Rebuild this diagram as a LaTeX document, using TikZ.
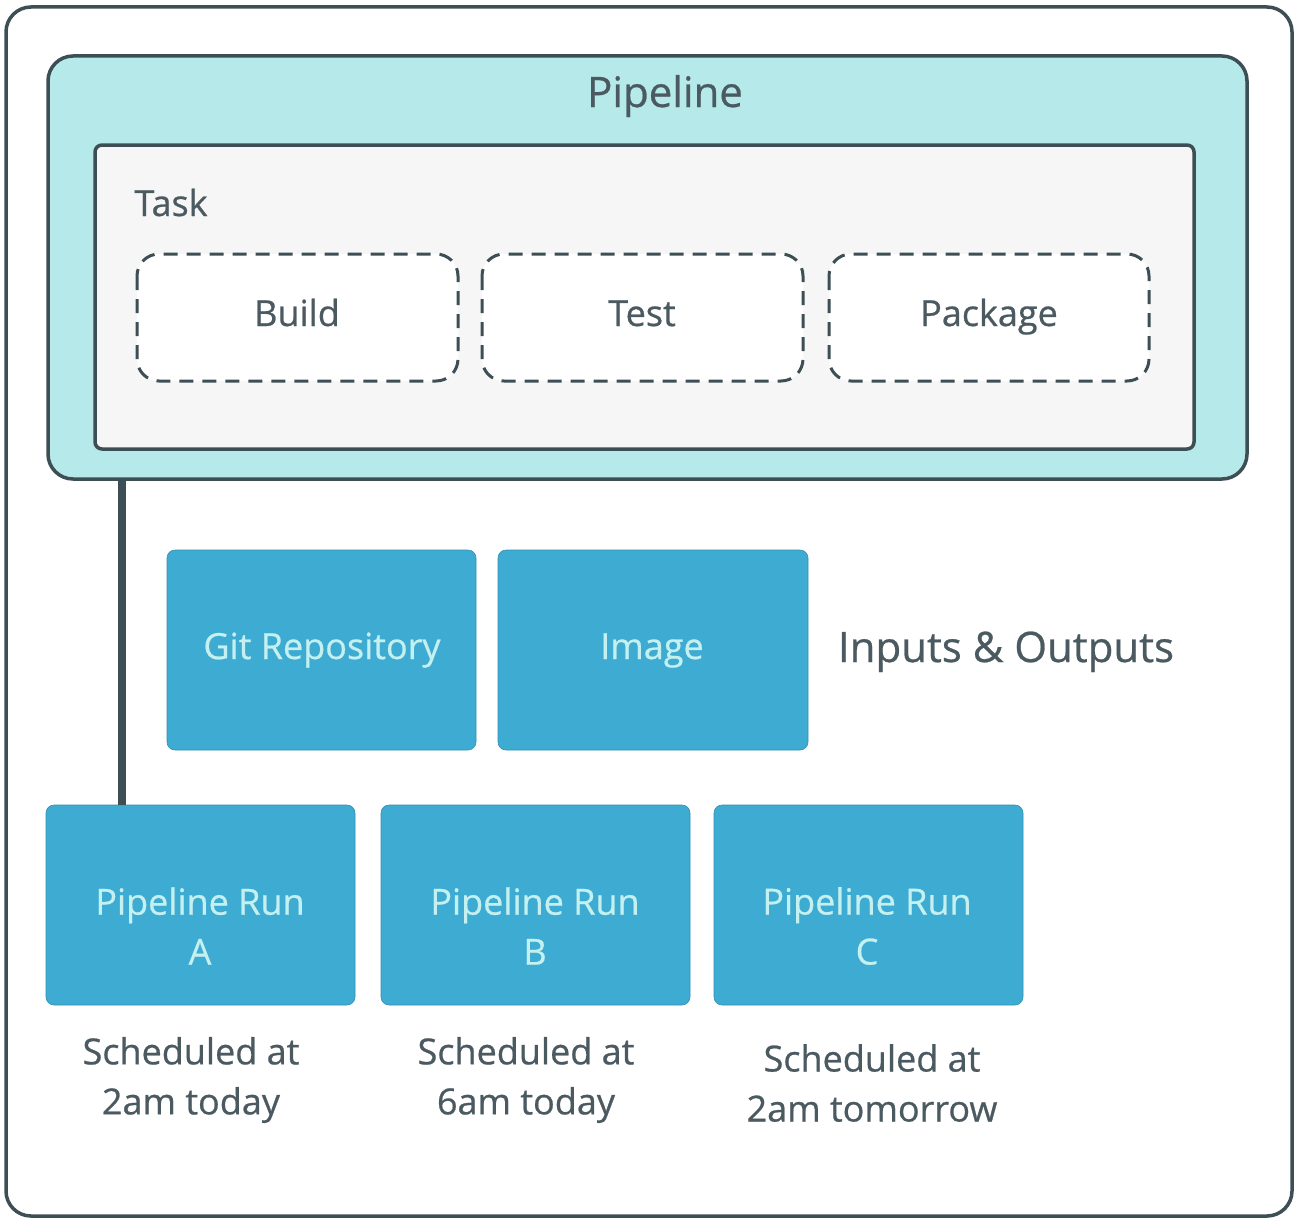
\documentclass[tikz,border=0pt]{standalone}
\usepackage{fontspec}
\setmainfont{Open Sans}[FakeBold=0.6,AutoFakeBold=0.6]
\definecolor{edge}{HTML}{3D4F55}
\definecolor{pipefill}{HTML}{B6E9E9}
\definecolor{taskfill}{HTML}{F6F6F6}
\definecolor{bluebox}{HTML}{3EABD2}
\definecolor{bluetext}{HTML}{C4F0F0}
\definecolor{graytext}{HTML}{4A5A60}
\begin{document}
\begin{tikzpicture}[x=1pt,y=-1pt,
  frame/.style={draw=edge,line width=3.5pt,rounded corners=25pt},
  stepbox/.style={draw=edge,line width=3pt,dash pattern=on 14pt off 9pt,rounded corners=22pt,fill=white},
  bluenode/.style={fill=bluebox,draw=bluebox!85!black,line width=0.6pt,rounded corners=8pt},
  btext/.style={text=bluetext,font=\fontsize{36}{50}\selectfont\bfseries,align=center},
  gtext/.style={text=graytext,font=\fontsize{36}{50}\selectfont\bfseries,align=center},
  bigtext/.style={text=graytext,font=\fontsize{42}{50}\selectfont\bfseries}]
\useasboundingbox (0,0) rectangle (1300,1223);
\fill[white] (0,0) rectangle (1300,1223);
% outer frame
\draw[frame] (6,7) rectangle (1292,1216);
% pipeline
\draw[frame,fill=pipefill] (48,56) rectangle (1247,479);
\node[bigtext,anchor=base] (pipe) at (665,107) {Pipeline};
% task
\draw[draw=edge,line width=3.5pt,fill=taskfill,rounded corners=7pt] (95,145) rectangle (1194,449);
\node[gtext,anchor=base west] (task) at (131,216) {Task};
% steps
\draw[stepbox] (137,254) rectangle (458,381);
\node[gtext,anchor=base] (build) at (297,326) {Build};
\draw[stepbox] (482,254) rectangle (803,381);
\node[gtext,anchor=base] (test) at (642,326) {Test};
\draw[stepbox] (829,254) rectangle (1149,381);
\node[gtext,anchor=base] (pkg) at (989,326) {Package};
% connector
\coordinate (linetop) at (122,481);
% inputs
\draw[bluenode] (167,550) rectangle (476,750);
\node[btext,anchor=base] (git) at (322,659) {Git Repository};
\draw[bluenode] (498,550) rectangle (808,750);
\node[btext,anchor=base] (img) at (652,659) {Image};
\node[bigtext,anchor=base] (io) at (1006,662) {Inputs \& Outputs};
% runs
\draw[bluenode] (46,805) rectangle (355,1005);
\coordinate (runAtop) at (122,805);
\node[btext] (runA) at (200,926) {Pipeline Run\\A};
\draw[bluenode] (381,805) rectangle (690,1005);
\node[btext] (runB) at (535,926) {Pipeline Run\\B};
\draw[bluenode] (714,805) rectangle (1023,1005);
\node[btext] (runC) at (867,926) {Pipeline Run\\C};
\draw[edge,line width=8pt] (linetop) -- (runAtop);
% schedules
\node[gtext] (sA) at (191,1080) {Scheduled at\\2am today};
\node[gtext] (sB) at (526,1080) {Scheduled at\\6am today};
\node[gtext] (sC) at (872,1083) {Scheduled at\\2am tomorrow};
\end{tikzpicture}
\end{document}
